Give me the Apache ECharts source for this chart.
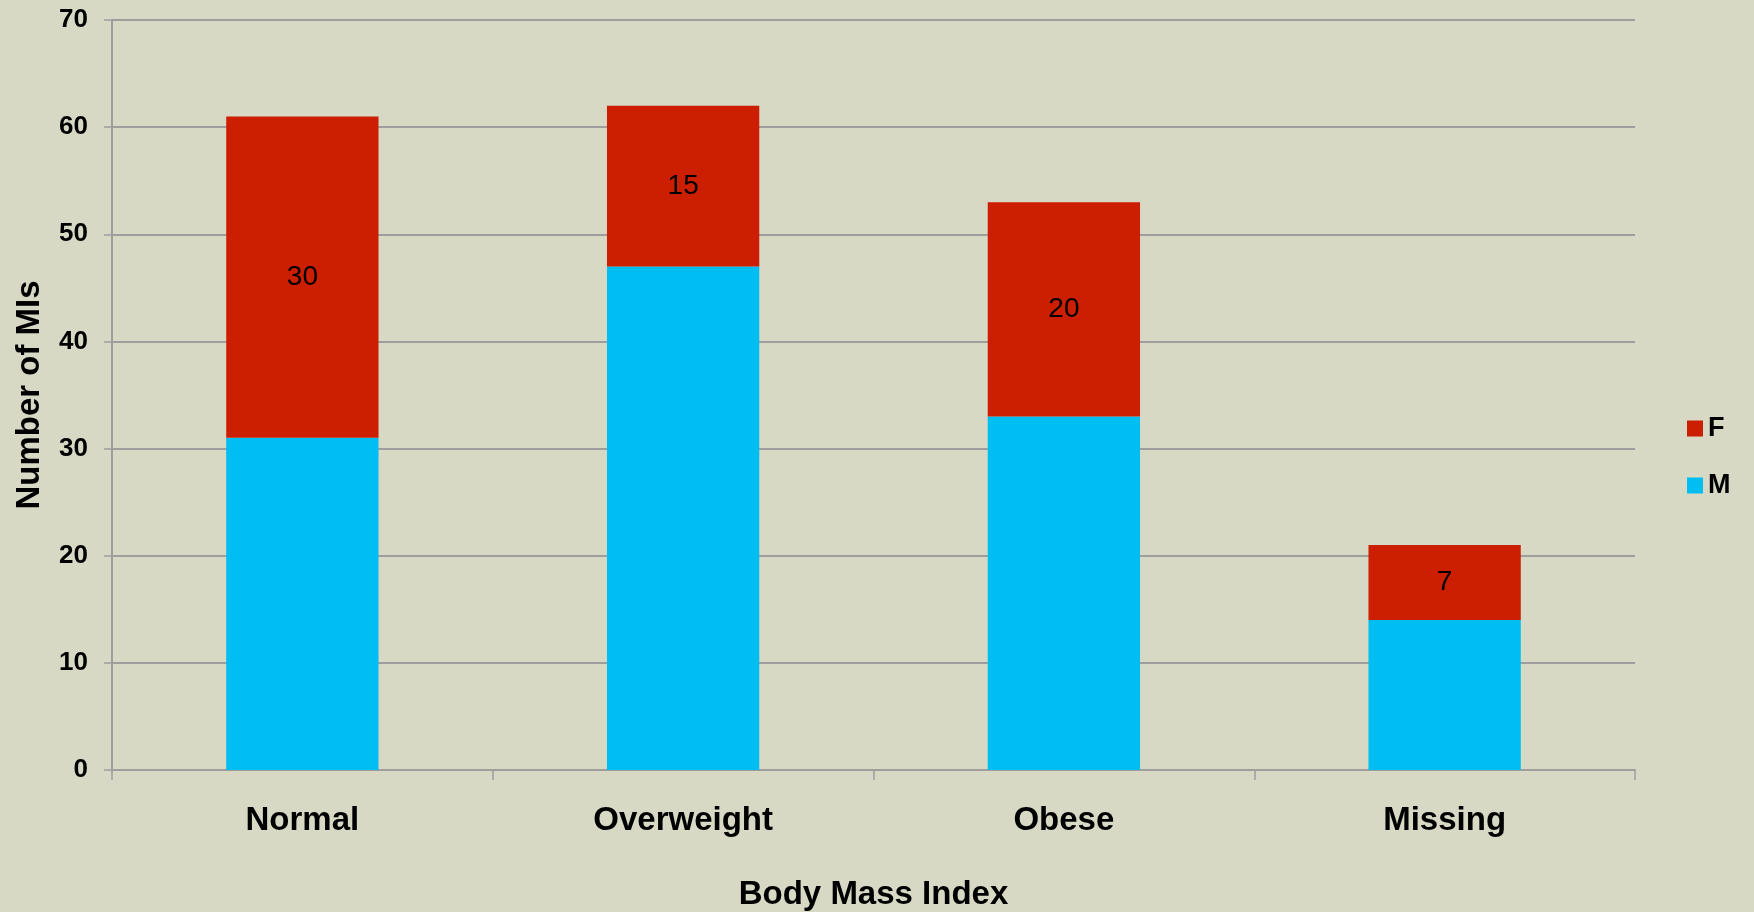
<!DOCTYPE html>
<html>
<head>
<meta charset="utf-8">
<script src="https://cdn.jsdelivr.net/npm/echarts@6/dist/echarts.min.js"></script>
<style>
  html, body { margin: 0; padding: 0; background: #d7d9c5; }
  #chart { width: 1754px; height: 912px; }
</style>
</head>
<body>
<div id="chart"></div>
<script>
// Body mass index groups and counts of MIs by sex
const categories = ['Normal', 'Overweight', 'Obese', 'Missing'];
const maleCounts = [31, 47, 33, 14];
const femaleCounts = [30, 15, 20, 7];
const yTicks = { min: 0, max: 70, interval: 10 };

const FONT = '"Liberation Sans", Arial, sans-serif';
const AXIS_GRAY = '#9e9e9e';

const chart = echarts.init(document.getElementById('chart'));
chart.setOption({
  backgroundColor: '#d7d9c5',
  animation: false,
  textStyle: { fontFamily: FONT },
  grid: { left: 112, right: 119, top: 20, bottom: 142, containLabel: false, outerBoundsMode: 'none' },
  legend: {
    orient: 'vertical',
    left: 1687,
    top: 415,
    padding: 0,
    itemWidth: 16,
    itemHeight: 16,
    itemGap: 30,
    icon: 'rect',
    data: ['F', 'M'],
    textStyle: { fontFamily: FONT, fontSize: 27, fontWeight: 'bold', color: '#000' }
  },
  xAxis: {
    type: 'category',
    data: categories,
    name: 'Body Mass Index',
    nameLocation: 'middle',
    nameGap: 108,
    nameTextStyle: { fontFamily: FONT, fontSize: 33, fontWeight: 'bold', color: '#000', verticalAlign: 'top' },
    axisLine: { lineStyle: { color: AXIS_GRAY, width: 2 } },
    axisTick: { show: true, length: 10, alignWithLabel: false, lineStyle: { color: AXIS_GRAY, width: 1.5 } },
    axisLabel: { fontFamily: FONT, fontSize: 33, fontWeight: 'bold', color: '#000', margin: 34 }
  },
  yAxis: {
    type: 'value',
    min: yTicks.min,
    max: yTicks.max,
    interval: yTicks.interval,
    name: 'Number of MIs',
    nameLocation: 'middle',
    nameGap: 66,
    nameTextStyle: { fontFamily: FONT, fontSize: 33, fontWeight: 'bold', color: '#000' },
    axisLine: { show: true, lineStyle: { color: AXIS_GRAY, width: 2 } },
    axisTick: { show: true, length: 8, lineStyle: { color: AXIS_GRAY, width: 1.5 } },
    axisLabel: { fontFamily: FONT, fontSize: 26, fontWeight: 'bold', color: '#000', margin: 24 },
    splitLine: { show: true, lineStyle: { color: AXIS_GRAY, width: 2 } }
  },
  series: [
    {
      name: 'M',
      type: 'bar',
      stack: 'total',
      barWidth: '40%',
      data: maleCounts,
      itemStyle: { color: '#00bdf2' }
    },
    {
      name: 'F',
      type: 'bar',
      stack: 'total',
      barWidth: '40%',
      data: femaleCounts,
      itemStyle: { color: '#cc1e00' },
      label: {
        show: true,
        position: 'inside',
        fontFamily: FONT,
        fontSize: 28,
        color: '#000'
      }
    }
  ]
});
</script>
</body>
</html>
